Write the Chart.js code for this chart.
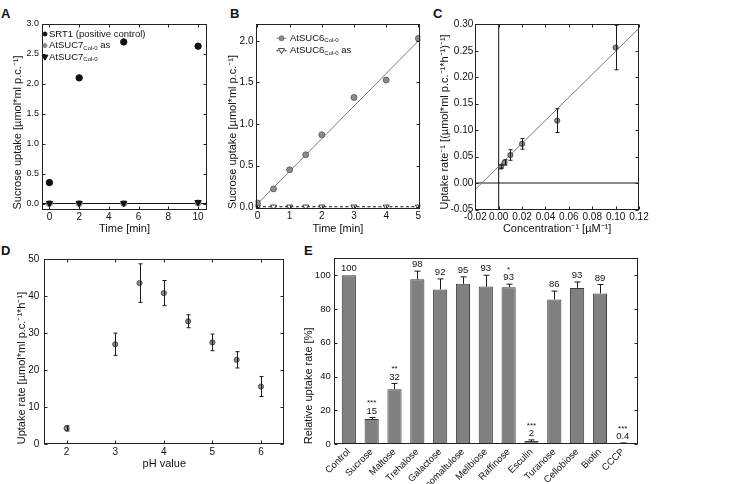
<!DOCTYPE html>
<html>
<head>
<meta charset="utf-8">
<script src="https://cdn.jsdelivr.net/npm/chart.js@4.4.1/dist/chart.umd.min.js"></script>
<style>
  html, body { margin: 0; padding: 0; background: #fff; }
  body { width: 750px; height: 484px; position: relative; overflow: hidden;
         font-family: "Liberation Sans", Arial, sans-serif; }
  canvas { position: absolute; }
  .tag { position: absolute; font-weight: bold; font-size: 13px; color: #111; }
</style>
</head>
<body>
<div class="tag" style="left:1px;top:6px">A</div>
<div class="tag" style="left:230px;top:6px">B</div>
<div class="tag" style="left:433px;top:6px">C</div>
<div class="tag" style="left:1px;top:243px">D</div>
<div class="tag" style="left:304px;top:243px">E</div>

<canvas id="cA" width="240" height="240" style="left:0;top:0"></canvas>
<canvas id="cB" width="215" height="240" style="left:225px;top:0"></canvas>
<canvas id="cC" width="228" height="240" style="left:432px;top:0"></canvas>
<canvas id="cD" width="300" height="239" style="left:0;top:245px"></canvas>
<canvas id="cE" width="365" height="239" style="left:295px;top:245px"></canvas>

<script>
// ---- A: uptake over time, SRT1 vs AtSUC7
const aTime = [0, 2, 5, 10];
const aSrt1 = [0.35, 2.1, 2.7, 2.63];
const aSuc7As = [0.0, 0.0, 0.0, 0.01];
const aSuc7 = [0.005, 0.005, 0.005, 0.02];
const aXTicks = [0, 2, 4, 6, 8, 10];
const aYTicks = [0, 0.5, 1, 1.5, 2, 2.5, 3];

// ---- B: AtSUC6 time course
const bTime = [0, 0.5, 1, 1.5, 2, 3, 4, 5];
const bSuc6 = [0.05, 0.22, 0.45, 0.63, 0.87, 1.32, 1.53, 2.03];
const bSuc6As = [0.005, 0.005, 0.005, 0.005, 0.005, 0.005, 0.005, 0.005];
const bFitX = [0, 5];
const bFitY = [0.04, 2.0];
const bXTicks = [0, 1, 2, 3, 4, 5];
const bYTicks = [0, 0.5, 1, 1.5, 2];

// ---- C: Lineweaver-Burk
const cConc = [0.002, 0.005, 0.01, 0.02, 0.05, 0.1];
const cRate = [0.031, 0.039, 0.053, 0.074, 0.118, 0.256];
const cErr = [0.003, 0.005, 0.010, 0.010, 0.0225, 0.042];
const cFitX = [-0.02, 0.12];
const cFitY = [-0.012, 0.2925];
const cXTicks = [-0.02, 0, 0.02, 0.04, 0.06, 0.08, 0.1, 0.12];
const cYTicks = [-0.05, 0, 0.05, 0.1, 0.15, 0.2, 0.25, 0.3];

// ---- D: pH dependence
const dPh = [2, 3, 3.5, 4, 4.5, 5, 5.5, 6];
const dRate = [4.3, 27.0, 43.5, 40.8, 33.2, 27.5, 22.8, 15.6];
const dErr = [0.7, 3.0, 5.2, 3.4, 1.75, 2.25, 2.2, 2.7];
const dXTicks = [2, 3, 4, 5, 6];
const dYTicks = [0, 10, 20, 30, 40, 50];

// ---- E: competition
const eSugars = ["Control", "Sucrose", "Maltose", "Trehalose", "Galactose", "Isomaltulose",
  "Melibiose", "Raffinose", "Esculin", "Turanose", "Cellobiose", "Biotin", "CCCP"];
const eRel = [100, 14.9, 32.6, 97.6, 91.6, 94.9, 93.3, 92.9, 2.0, 85.7, 92.5, 89.2, 0.5];
const eErr = [0, 1.0, 3.4, 4.8, 6.2, 4.1, 6.7, 1.8, 0.6, 4.9, 3.5, 5.3, 0.3];
const eShown = ["100", "15", "32", "98", "92", "95", "93", "93", "2", "86", "93", "89", "0.4"];
const eStars = ["", "***", "**", "", "", "", "", "*", "***", "", "", "", "***"];
const eYTicks = [0, 20, 40, 60, 80, 100];

const FONT = "'Liberation Sans', Arial, Helvetica, sans-serif";
Chart.defaults.font.family = FONT;
Chart.defaults.font.size = 10;
Chart.defaults.color = '#111';
Chart.defaults.animation = false;
Chart.defaults.plugins.legend.display = false;
Chart.defaults.plugins.tooltip.enabled = false;

const MARK_FILL = '#8c8c8c';
const MARK_EDGE = '#333';

function pts(xs, ys) { return xs.map((x, i) => ({ x: x, y: ys[i] })); }

function axis(o) {
  const left = o.position === 'left';
  return {
    type: 'linear',
    position: o.position,
    min: o.min, max: o.max,
    bounds: 'data',
    offset: false,
    afterBuildTicks: s => { s.ticks = o.ticks.map(v => ({ value: v })); },
    afterFit: s => { if (left) s.width = o.size; else s.height = o.size; },
    grid: { display: false, drawTicks: false },
    border: { display: false },
    ticks: { padding: o.pad, color: '#111', font: { size: o.fs || 10 }, autoSkip: false,
             maxRotation: o.rot || 0, minRotation: o.rot || 0, callback: o.fmt },
    title: o.title ? {
      display: true, text: o.title, align: o.align || 'center', color: '#111',
      font: { size: 11 }, padding: left ? { top: o.tpad, bottom: 0 } : { top: 0, bottom: o.tpad }
    } : { display: false }
  };
}

// box round the plot with inward ticks on every side
function framePlugin(opt) {
  return {
    id: 'frame',
    afterDatasetsDraw(chart) {
      const { ctx, chartArea: ca, scales } = chart;
      const L = Math.round(ca.left) + 0.5, R = Math.round(ca.right) - 0.5;
      const T = Math.round(ca.top) + 0.5, B = Math.round(ca.bottom) - 0.5;
      const len = 3;
      ctx.save();
      ctx.strokeStyle = '#222';
      ctx.lineWidth = 1;
      ctx.strokeRect(L, T, R - L, B - T);
      ctx.beginPath();
      if (opt.xTicks !== false) {
        scales.x.ticks.forEach(t => {
          const px = Math.round(scales.x.getPixelForValue(t.value)) + 0.5;
          ctx.moveTo(px, B); ctx.lineTo(px, B - len);
          ctx.moveTo(px, T); ctx.lineTo(px, T + len);
        });
      }
      scales.y.ticks.forEach(t => {
        const py = Math.round(scales.y.getPixelForValue(t.value)) + 0.5;
        ctx.moveTo(L, py); ctx.lineTo(L + len, py);
        ctx.moveTo(R, py); ctx.lineTo(R - len, py);
      });
      ctx.stroke();
      ctx.restore();
    }
  };
}

// straight reference lines at a given axis value
function refLinePlugin(lines) {
  return {
    id: 'refLines',
    beforeDatasetsDraw(chart) {
      const { ctx, chartArea: ca, scales } = chart;
      ctx.save();
      lines.forEach(l => {
        ctx.strokeStyle = l.color;
        ctx.lineWidth = l.width;
        ctx.beginPath();
        if (l.axis === 'y') {
          const py = scales.y.getPixelForValue(l.value);
          ctx.moveTo(ca.left, py); ctx.lineTo(ca.right, py);
        } else {
          const px = scales.x.getPixelForValue(l.value);
          ctx.moveTo(px, ca.top); ctx.lineTo(px, ca.bottom);
        }
        ctx.stroke();
      });
      ctx.restore();
    }
  };
}

// error bars from dataset.errors
function errPlugin(upOnly, cap) {
  return {
    id: 'errBars',
    afterDatasetsDraw(chart) {
      const { ctx, scales } = chart;
      ctx.save();
      ctx.strokeStyle = '#1a1a1a';
      ctx.lineWidth = 1;
      chart.data.datasets.forEach((ds, di) => {
        if (!ds.errors) return;
        const meta = chart.getDatasetMeta(di);
        meta.data.forEach((el, i) => {
          const e = ds.errors[i];
          if (!e) return;
          const v = ds.data[i].y;
          const x = Math.round(el.x) + 0.5;
          const yHi = scales.y.getPixelForValue(v + e);
          const yLo = upOnly ? scales.y.getPixelForValue(v) : scales.y.getPixelForValue(v - e);
          ctx.beginPath();
          ctx.moveTo(x, yLo); ctx.lineTo(x, yHi);
          ctx.moveTo(x - cap, yHi); ctx.lineTo(x + cap, yHi);
          if (!upOnly) { ctx.moveTo(x - cap, yLo); ctx.lineTo(x + cap, yLo); }
          ctx.stroke();
        });
      });
      ctx.restore();
    }
  };
}

function drawMarker(ctx, m, x, y) {
  ctx.save();
  ctx.fillStyle = m.fill;
  ctx.strokeStyle = m.stroke || m.fill;
  ctx.lineWidth = m.bw || 1;
  ctx.beginPath();
  if (m.shape === 'circle') {
    ctx.arc(x, y, m.r, 0, Math.PI * 2);
  } else {
    ctx.moveTo(x - m.r, y - m.r * 0.7);
    ctx.lineTo(x + m.r, y - m.r * 0.7);
    ctx.lineTo(x, y + m.r);
    ctx.closePath();
  }
  ctx.fill();
  ctx.stroke();
  ctx.restore();
}

// legend inside the plot, with subscripts
function legendPlugin(cfg) {
  return {
    id: 'insideLegend',
    afterDraw(chart) {
      const { ctx, chartArea: ca } = chart;
      ctx.save();
      cfg.items.forEach((it, i) => {
        const y = ca.top + cfg.y + i * cfg.row;
        const mx = ca.left + cfg.mx;
        if (it.line) {
          ctx.save();
          ctx.strokeStyle = it.line.color;
          ctx.lineWidth = 1;
          ctx.setLineDash(it.line.dash || []);
          ctx.beginPath();
          ctx.moveTo(mx - cfg.ll, y); ctx.lineTo(mx + cfg.ll, y);
          ctx.stroke();
          ctx.restore();
        }
        drawMarker(ctx, it.marker, mx, y);
        let x = ca.left + cfg.tx;
        ctx.fillStyle = '#111';
        ctx.textAlign = 'left';
        ctx.textBaseline = 'middle';
        ctx.font = '9.5px ' + FONT;
        ctx.fillText(it.text[0], x, y);
        x += ctx.measureText(it.text[0]).width;
        if (it.text[1]) {
          ctx.font = '6px ' + FONT;
          ctx.fillText(it.text[1], x, y + 2.5);
          x += ctx.measureText(it.text[1]).width;
        }
        if (it.text[2]) {
          ctx.font = '9.5px ' + FONT;
          ctx.fillText(it.text[2], x, y);
        }
      });
      ctx.restore();
    }
  };
}

// numbers and stars above the bars in E
const barLabelPlugin = {
  id: 'barLabels',
  afterDatasetsDraw(chart) {
    const { ctx, scales } = chart;
    const meta = chart.getDatasetMeta(0);
    ctx.save();
    ctx.fillStyle = '#111';
    ctx.textAlign = 'center';
    ctx.textBaseline = 'middle';
    meta.data.forEach((el, i) => {
      const top = scales.y.getPixelForValue(eRel[i] + eErr[i]);
      ctx.font = '9.5px ' + FONT;
      ctx.fillText(eShown[i], el.x, top - 6.5);
      if (eStars[i]) {
        ctx.font = '8px ' + FONT;
        ctx.fillText(eStars[i], el.x, top - 14.5);
      }
    });
    ctx.restore();
  }
};

const fmt = d => (v => Number(v).toFixed(d));

// ---------------- A
new Chart(document.getElementById('cA'), {
  type: 'scatter',
  data: {
    datasets: [
      { label: 'AtSUC7 Col-0', data: pts(aTime, aSuc7), pointStyle: 'triangle', rotation: 180,
        pointRadius: 3.6, backgroundColor: '#111', borderColor: '#111' },
      { label: 'AtSUC7 Col-0 as', data: pts(aTime, aSuc7As), pointRadius: 3,
        backgroundColor: '#888', borderColor: '#888' },
      { label: 'SRT1 (positive control)', data: pts(aTime, aSrt1), pointRadius: 3.2,
        backgroundColor: '#111', borderColor: '#111' }
    ]
  },
  options: {
    responsive: false,
    layout: { padding: { top: 24, right: 33, left: 0, bottom: 0 } },
    scales: {
      x: axis({ position: 'bottom', min: -0.5, max: 10.6, ticks: aXTicks, size: 30.5, pad: 1.5,
                fmt: fmt(0), title: 'Time [min]', tpad: 4.4 }),
      y: axis({ position: 'left', min: -0.1, max: 3.0, ticks: aYTicks, size: 42, pad: 3, fs: 9,
                fmt: fmt(1), title: 'Sucrose uptake [µmol*ml p.c.⁻¹]', align: 'start', tpad: 11 })
    }
  },
  plugins: [
    refLinePlugin([{ axis: 'y', value: 0, color: '#111', width: 1 }]),
    framePlugin({}),
    legendPlugin({ mx: 3, tx: 7, y: 10, row: 11.6, ll: 0, items: [
      { marker: { shape: 'circle', r: 2, fill: '#111' }, text: ['SRT1 (positive control)'] },
      { marker: { shape: 'circle', r: 2, fill: '#888' }, text: ['AtSUC7', 'Col-0', ' as'] },
      { marker: { shape: 'tri', r: 3, fill: '#111' }, text: ['AtSUC7', 'Col-0', ''] }
    ] })
  ]
});

// ---------------- B
new Chart(document.getElementById('cB'), {
  type: 'scatter',
  data: {
    datasets: [
      { label: 'AtSUC6 Col-0', data: pts(bTime, bSuc6), pointRadius: 3,
        backgroundColor: MARK_FILL, borderColor: '#555', borderWidth: 0.8 },
      { label: 'AtSUC6 Col-0 as', data: pts(bTime, bSuc6As), showLine: true,
        borderDash: [3, 2.5], borderColor: '#111', borderWidth: 1,
        pointStyle: 'triangle', rotation: 180, pointRadius: 3.4,
        pointBackgroundColor: '#fff', pointBorderColor: '#111', pointBorderWidth: 0.8 },
      { label: 'fit', data: pts(bFitX, bFitY), showLine: true, pointRadius: 0,
        borderColor: '#7a7a7a', borderWidth: 1 }
    ]
  },
  options: {
    responsive: false,
    layout: { padding: { top: 24.3, right: 19.7, left: 0, bottom: 0 } },
    scales: {
      x: axis({ position: 'bottom', min: -0.06, max: 5.06, ticks: bXTicks, size: 31, pad: 1.5,
                fmt: fmt(0), title: 'Time [min]', tpad: 4.1 }),
      y: axis({ position: 'left', min: -0.022, max: 2.2, ticks: bYTicks, size: 30.5, pad: 2,
                fmt: fmt(1), title: 'Sucrose uptake [µmol*ml p.c.⁻¹]', align: 'start', tpad: 1.5 })
    }
  },
  plugins: [
    framePlugin({}),
    legendPlugin({ mx: 26, tx: 34.5, y: 14, row: 12.4, ll: 5, items: [
      { marker: { shape: 'circle', r: 2.5, fill: MARK_FILL, stroke: '#666', bw: 0.8 },
        line: { color: '#888' }, text: ['AtSUC6', 'Col-0', ''] },
      { marker: { shape: 'tri', r: 3, fill: '#fff', stroke: '#111', bw: 0.8 },
        line: { color: '#111', dash: [2, 2] }, text: ['AtSUC6', 'Col-0', ' as'] }
    ] })
  ]
});

// ---------------- C
new Chart(document.getElementById('cC'), {
  type: 'scatter',
  data: {
    datasets: [
      { label: 'rate', data: pts(cConc, cRate), errors: cErr, pointRadius: 2.6,
        backgroundColor: MARK_FILL, borderColor: MARK_EDGE, borderWidth: 0.8 },
      { label: 'fit', data: pts(cFitX, cFitY), showLine: true, pointRadius: 0,
        borderColor: '#7a7a7a', borderWidth: 1 }
    ]
  },
  options: {
    responsive: false,
    layout: { padding: { top: 24.3, right: 21, left: 0, bottom: 0 } },
    scales: {
      x: axis({ position: 'bottom', min: -0.02, max: 0.12, ticks: cXTicks, size: 30.5, pad: 1.5,
                fmt: fmt(2), title: 'Concentration⁻¹ [µM⁻¹]', tpad: 4.1 }),
      y: axis({ position: 'left', min: -0.05, max: 0.30, ticks: cYTicks, size: 43.3, pad: 2,
                fmt: fmt(2), title: 'Uptake rate⁻¹ [(µmol*ml p.c.⁻¹*h⁻¹)⁻¹]', align: 'start', tpad: 6 })
    }
  },
  plugins: [
    refLinePlugin([
      { axis: 'y', value: 0, color: '#8a8a8a', width: 2 },
      { axis: 'x', value: 0, color: '#111', width: 1 }
    ]),
    errPlugin(false, 2),
    framePlugin({})
  ]
});

// ---------------- D
new Chart(document.getElementById('cD'), {
  type: 'scatter',
  data: {
    datasets: [
      { label: 'rate', data: pts(dPh, dRate), errors: dErr, pointRadius: 2.6,
        backgroundColor: MARK_FILL, borderColor: MARK_EDGE, borderWidth: 0.8 }
    ]
  },
  options: {
    responsive: false,
    layout: { padding: { top: 14, right: 15.7, left: 0, bottom: 0 } },
    scales: {
      x: axis({ position: 'bottom', min: 1.54, max: 6.48, ticks: dXTicks, size: 39.7, pad: 2,
                fmt: fmt(0), title: 'pH value', tpad: 13.4 }),
      y: axis({ position: 'left', min: 0, max: 50, ticks: dYTicks, size: 44.3, pad: 5,
                fmt: fmt(0), title: 'Uptake rate [µmol*ml p.c.⁻¹*h⁻¹]', align: 'start', tpad: 15.1 })
    }
  },
  plugins: [errPlugin(false, 2), framePlugin({})]
});

// ---------------- E
new Chart(document.getElementById('cE'), {
  type: 'bar',
  data: {
    datasets: [
      { label: 'Relative uptake rate', data: eRel.map((v, i) => ({ x: i, y: v })), errors: eErr,
        backgroundColor: '#808080', borderColor: '#3a3a3a', borderWidth: 1,
        barPercentage: 0.62, categoryPercentage: 1 }
    ]
  },
  options: {
    responsive: false,
    layout: { padding: { top: 13.3, right: 21.7, left: 0, bottom: 0 } },
    scales: {
      x: axis({ position: 'bottom', min: -0.65, max: 12.68, ticks: eSugars.map((s, i) => i),
                size: 39.7, pad: 2, rot: 45, fs: 9.5, fmt: v => eSugars[v] }),
      y: axis({ position: 'left', min: 0, max: 110, ticks: eYTicks, size: 39, pad: 3.3, fs: 9.5,
                fmt: fmt(0), title: 'Relative uptake rate [%]', align: 'start', tpad: 7.7 })
    }
  },
  plugins: [errPlugin(true, 3), framePlugin({ xTicks: false }), barLabelPlugin]
});
</script>
</body>
</html>
